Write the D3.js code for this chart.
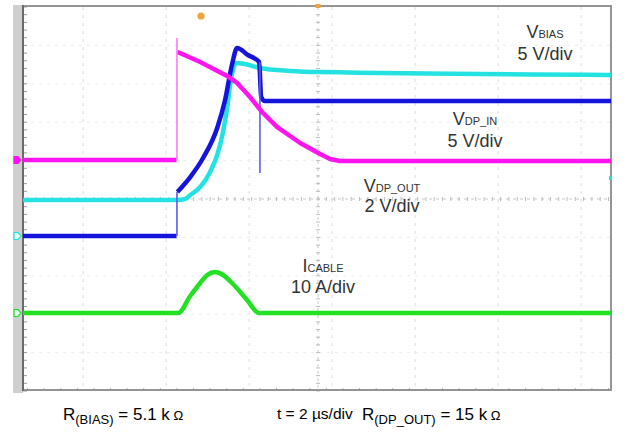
<!DOCTYPE html>
<html>
<head>
<meta charset="utf-8">
<script src="https://cdn.jsdelivr.net/npm/d3@7"></script>
<style>
  html, body { margin: 0; padding: 0; background: #fff; }
  svg { display: block; }
</style>
</head>
<body>
<svg id="chart" width="639" height="433"></svg>
<script>
// ---------------- DATA (time in µs, values in channel units) ----------------
// V_BIAS, 5 V/div  (null breaks the thick trace at the fast edge)
const vbias = [[-7.11,0],[-3.41,0],[null,null],[-3.39,14.06],[-3.33,13.93],[-2.84,12.76],[-2.19,10.94],
  [-1.95,10.03],[-1.64,8.20],[-1.35,6.25],[-0.99,4.30],[-0.43,2.21],[0.05,0.78],[0.29,0.13],[0.53,-0.13],[7.06,-0.13]];
// V_DP_IN, 5 V/div
const vdpIn = [[-7.11,0],[-3.41,0],[null,null],[-3.39,5.73],[-3.08,7.68],[-2.77,10.16],[-2.43,14.06],
  [-2.24,17.71],[-2.07,22.40],[-1.95,24.48],[-1.69,23.57],[-1.42,22.66],[-1.37,18.10],[-1.28,17.58],[7.06,17.58]];
// V_DP_OUT, 2 V/div
const vdpOut = [[-7.11,1.93],[-3.40,1.93],[-3.20,1.98],[-3.08,2.19],[-2.84,2.60],[-2.60,3.39],[-2.43,4.27],
  [-2.29,5.47],[-2.19,6.72],[-2.12,7.92],[-2.05,8.70],[-1.98,9.06],[-1.76,9.01],[-1.40,8.80],[-0.67,8.65],[0.05,8.59],[7.06,8.44]];
// I_CABLE, 10 A/div
const iCable = [[-7.11,0],[-3.37,0],[-3.08,4.43],[-2.84,7.81],[-2.67,9.90],[-2.48,10.68],[-2.29,9.90],
  [-2.05,7.55],[-1.73,3.65],[-1.42,0],[7.06,0]];
// thin fast edges / spikes: [time, from, to]
const vbiasEdges = [[-3.40,0,15.89]];
const vdpInEdges = [[-3.40,0,5.73],[-1.40,22.66,8.20]];

const channelNames = ["V_BIAS","V_DP_IN","V_DP_OUT","I_CABLE"];
const channelScales = [5, 5, 2, 10];          // units per division
const channelOffsets = [1.016, -0.964, -0.990, -2.969]; // ground position, divisions from centre
const channelColors = ["#ff14f0", "#1414dc", "#24e2e2", "#22e022"];
const labelMain = ["V","V","V","I"];
const labelSub = ["BIAS","DP_IN","DP_OUT","CABLE"];
const labelScale = ["5 V/div","5 V/div","2 V/div","10 A/div"];
const footer = {rbias:"5.1 k", time:"t = 2 µs/div", rdpout:"15 k"};

// ---------------- SCALES ----------------
const svg = d3.select("#chart");
const L = 23, R = 611, T = 7, B = 391;
const x = d3.scaleLinear().domain([-7.11, 7.06]).range([L, R]);
const yDiv = d3.scaleLinear().domain([-5, 5]).range([B, T]);
const yCh = (ch, v) => yDiv(channelOffsets[ch] + v / channelScales[ch]);

// left gray strip
svg.append("rect").attr("x", 13).attr("y", 5).attr("width", 10).attr("height", B - 3).attr("fill", "#cfcfcf");

// grid
const g = svg.append("g");
const gridTimes = d3.range(-5.66, 7, 2);
g.selectAll(".vg").data(gridTimes).join("line")
  .attr("x1", d => x(d)).attr("x2", d => x(d)).attr("y1", T).attr("y2", B)
  .attr("stroke", "#dcdcdc").attr("stroke-width", 1).attr("stroke-dasharray", "3,5");
g.selectAll(".hg").data(d3.range(-4, 5, 1).filter(d => d !== 0)).join("line")
  .attr("x1", L).attr("x2", R).attr("y1", d => yDiv(d)).attr("y2", d => yDiv(d))
  .attr("stroke", "#ececec").attr("stroke-width", 1).attr("stroke-dasharray", "3,5");
// centre axes with ticks
g.append("line").attr("x1", L).attr("x2", R).attr("y1", yDiv(0)).attr("y2", yDiv(0))
  .attr("stroke", "#c8c8c8").attr("stroke-dasharray", "3,4");
g.selectAll(".ht").data(d3.range(-7, 7.06, 0.2)).join("line")
  .attr("x1", d => x(d)).attr("x2", d => x(d)).attr("y1", yDiv(0) - 2).attr("y2", yDiv(0) + 2)
  .attr("stroke", "#bdbdbd");
g.append("line").attr("x1", x(0)).attr("x2", x(0)).attr("y1", T).attr("y2", B)
  .attr("stroke", "#c8c8c8").attr("stroke-dasharray", "3,4");
g.selectAll(".vt").data(d3.range(-5, 5.01, 0.2)).join("line")
  .attr("x1", x(0) - 2).attr("x2", x(0) + 2).attr("y1", d => yDiv(d)).attr("y2", d => yDiv(d))
  .attr("stroke", "#bdbdbd");
// left border minor ticks
g.selectAll(".lt").data(d3.range(-5, 5.01, 0.2)).join("line")
  .attr("x1", L).attr("x2", L + 4).attr("y1", d => yDiv(d)).attr("y2", d => yDiv(d))
  .attr("stroke", "#9a9a9a");
g.selectAll(".bt").data(d3.range(-7, 7.06, 0.4)).join("line")
  .attr("x1", d => x(d)).attr("x2", d => x(d)).attr("y1", B - 3).attr("y2", B)
  .attr("stroke", "#b0b0b0");

// frame
svg.append("rect").attr("x", L).attr("y", T - 1).attr("width", R - L).attr("height", B - T)
  .attr("fill", "none").attr("stroke", "#8a8a8a").attr("stroke-width", 1.8);
svg.append("line").attr("x1", L).attr("x2", L).attr("y1", T - 2).attr("y2", B)
  .attr("stroke", "#6a6a6a").attr("stroke-width", 2);

// traces
const series = [vbias, vdpIn, vdpOut, iCable];
const edges = [vbiasEdges, vdpInEdges, [], []];
const drawOrder = [3, 2, 1, 0];
const edgeColors = ["#ff7cf5", "#5c5ce8", "#60e8e8", "#60e860"];
drawOrder.forEach(ch => {
  const line = d3.line()
    .defined(d => d[0] !== null)
    .x(d => x(d[0])).y(d => yCh(ch, d[1]))
    .curve(ch === 0 ? d3.curveLinear : d3.curveMonotoneX);
  svg.append("path").datum(series[ch]).attr("d", line)
    .attr("fill", "none").attr("stroke", channelColors[ch]).attr("stroke-width", 4.5)
    .attr("stroke-linejoin", "round").attr("stroke-linecap", "butt");
  svg.selectAll(".e" + ch).data(edges[ch]).join("line")
    .attr("x1", d => x(d[0])).attr("x2", d => x(d[0]))
    .attr("y1", d => yCh(ch, d[1])).attr("y2", d => yCh(ch, d[2]))
    .attr("stroke", edgeColors[ch]).attr("stroke-width", 1.6);
});

// channel ground markers on left strip
[[0, "#ff14f0"], [2, "#24e2e2"], [3, "#22e022"]].forEach(([ch, c]) => {
  const yy = ch === 2 ? yDiv(channelOffsets[1]) : yCh(ch, 0);
  svg.append("path").attr("d", `M14,${yy - 3.5}h4l3,3.5l-3,3.5h-4z`)
    .attr("fill", ch === 0 ? c : "#e8fff8").attr("stroke", c).attr("stroke-width", 1.2);
});
svg.append("rect").attr("x", 609).attr("y", 176).attr("width", 3).attr("height", 4).attr("fill", "#24e2e2");

// trigger markers
svg.append("circle").attr("cx", 201).attr("cy", 16).attr("r", 3.6).attr("fill", "#f2a23a");
svg.append("rect").attr("x", x(0) - 2.5).attr("y", 4).attr("width", 5).attr("height", 4).attr("fill", "#f2a23a");

// labels
const labelPos = [[545, 38, 60], [475, 125, 147], [392, 192, 212], [323, 272, 293]];
const font = "'Liberation Sans', Arial, sans-serif";
labelPos.forEach(([cx, y1, y2], i) => {
  const t = svg.append("text").attr("x", cx).attr("y", y1).attr("text-anchor", "middle")
    .attr("font-family", font).attr("fill", "#333");
  t.append("tspan").attr("font-size", 18).text(labelMain[i]);
  t.append("tspan").attr("font-size", 11).text(labelSub[i]);
  svg.append("text").attr("x", cx).attr("y", y2).attr("text-anchor", "middle")
    .attr("font-family", font).attr("font-size", 18).attr("fill", "#333").text(labelScale[i]);
});

// footer
const f1 = svg.append("text").attr("x", 63).attr("y", 420).attr("font-family", font).attr("fill", "#000");
f1.append("tspan").attr("font-size", 17).text("R");
f1.append("tspan").attr("font-size", 13).attr("dy", 4).text("(BIAS)");
f1.append("tspan").attr("font-size", 17).attr("dy", -4).text(" = " + footer.rbias);
f1.append("tspan").attr("font-size", 13).text(" Ω");
svg.append("text").attr("x", 277).attr("y", 419).attr("font-family", font).attr("font-size", 15.5)
  .attr("fill", "#000").text(footer.time);
const f2 = svg.append("text").attr("x", 362).attr("y", 420).attr("font-family", font).attr("fill", "#000");
f2.append("tspan").attr("font-size", 17).text("R");
f2.append("tspan").attr("font-size", 13).attr("dy", 4).text("(DP_OUT)");
f2.append("tspan").attr("font-size", 17).attr("dy", -4).text(" = " + footer.rdpout);
f2.append("tspan").attr("font-size", 13).text(" Ω");
</script>
</body>
</html>
